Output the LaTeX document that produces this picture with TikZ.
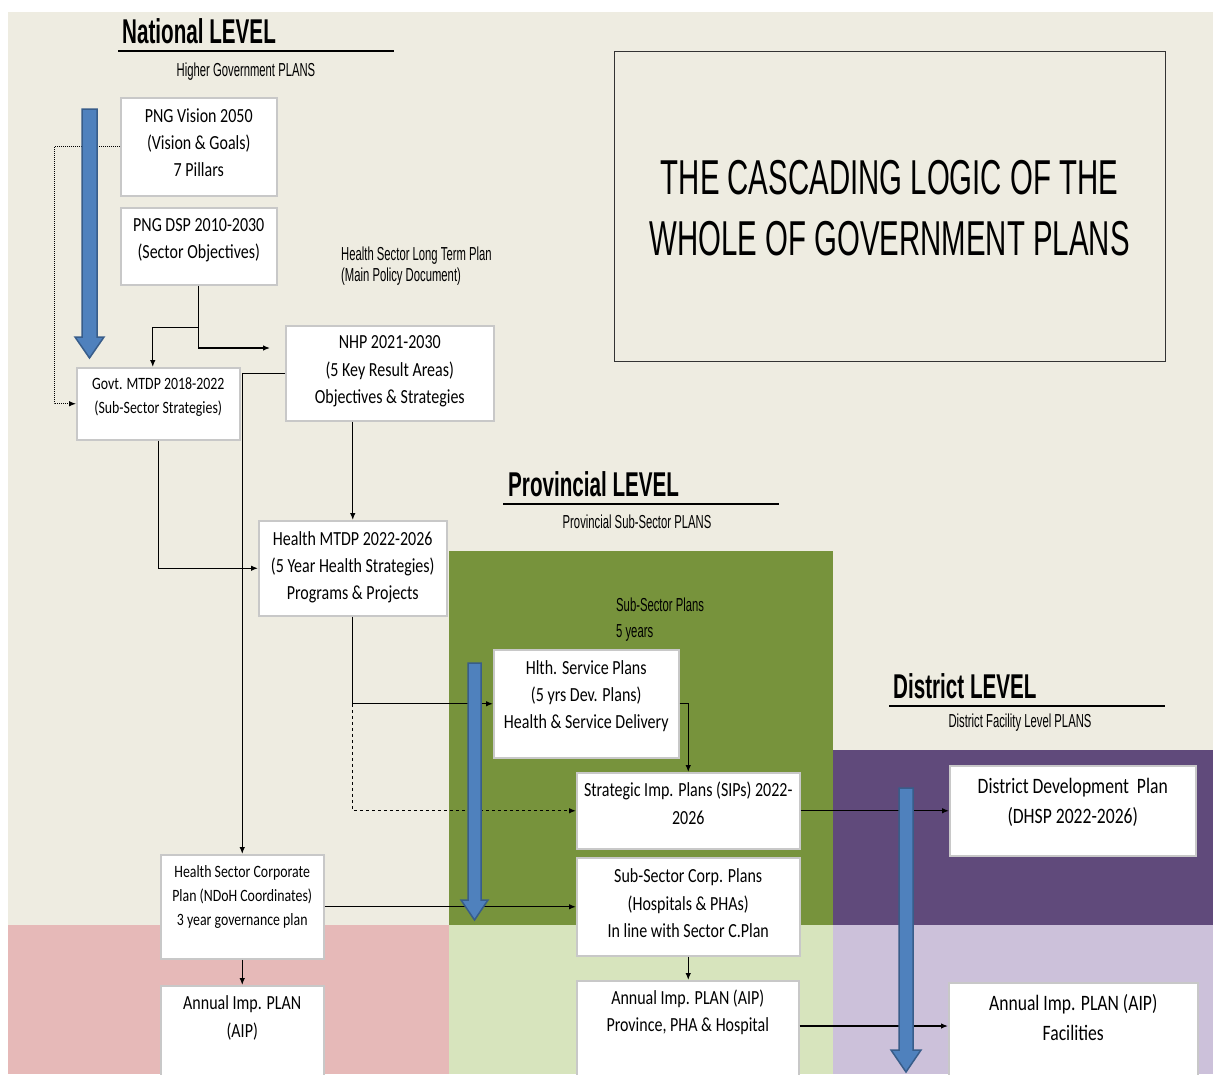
\documentclass[tikz,border=0pt]{standalone}
\usepackage{fontspec}
\setmainfont{Carlito}
\newfontfamily\boxfont[FakeStretch=0.8]{Carlito}
\newfontfamily\nfont[FakeStretch=0.6]{Liberation Sans}
\usetikzlibrary{arrows.meta,calc}
\definecolor{beige}{HTML}{EEECE1}
\definecolor{dgreen}{HTML}{77933C}
\definecolor{lgreen}{HTML}{D7E4BD}
\definecolor{pinkbg}{HTML}{E6B9B8}
\definecolor{dpurple}{HTML}{604A7B}
\definecolor{lpurple}{HTML}{CCC1DA}
\definecolor{bluefill}{HTML}{4F81BD}
\definecolor{blueline}{HTML}{385D8A}
\definecolor{boxgray}{HTML}{C8C8C8}
\tikzset{
  plan/.style={draw=boxgray, line width=1.5pt, fill=white, inner sep=0pt, anchor=north west},
  bt/.style={font=\boxfont\fontsize{20}{27}\selectfont, align=center, anchor=north, inner sep=0pt},
  bts/.style={font=\boxfont\fontsize{17.3}{24}\selectfont, align=center, anchor=north, inner sep=0pt},
  btl/.style={font=\boxfont\fontsize{22}{30}\selectfont, align=center, anchor=north, inner sep=0pt},
  conn/.style={line width=1.2pt, -{Latex[length=7pt,width=5.5pt]}},
  lvl/.style={font=\nfont\bfseries\fontsize{34.4}{40}\selectfont, anchor=base west, inner sep=0pt},
  subt/.style={font=\nfont\fontsize{18.8}{21}\selectfont, inner sep=0pt, anchor=base},
  subl/.style={font=\nfont\fontsize{18.8}{21}\selectfont, inner sep=0pt, anchor=base west},
  ttl/.style={font=\nfont\fontsize{49}{61}\selectfont, inner sep=0pt, anchor=base},
  uline/.style={line width=1.5pt},
  barrow/.style={fill=bluefill, draw=blueline, line width=1.5pt, line join=miter},
}
\newcommand\stA{\rule{0pt}{15pt}}
\newcommand\stS{\rule{0pt}{13pt}}
\newcommand\stL{\rule{0pt}{16.5pt}}
\newcommand\bluearrow[6]{%
  \filldraw[barrow] (#1,#3) -- (#2,#3) -- (#2,#4) -- (#2+#6,#4) -- ({(#1+#2)/2},#5) -- (#1-#6,#4) -- (#1,#4) -- cycle;}
\begin{document}
\begin{tikzpicture}[x=1pt,y=-1pt]
\clip (0,0) rectangle (1213,1074);
\useasboundingbox (0,0) rectangle (1213,1074);
% backgrounds
\fill[white] (0,0) rectangle (1213,1074);
\fill[beige] (8,12) rectangle (1213,1074);
\fill[pinkbg] (8,925) rectangle (449,1074);
\fill[dgreen] (449,551) rectangle (833,925);
\fill[lgreen] (449,925) rectangle (833,1074);
\fill[dpurple] (833,750) rectangle (1213,925);
\fill[lpurple] (833,925) rectangle (1213,1074);

% title box
\node[draw=black!80, line width=1.3pt, minimum width=551, minimum height=310, anchor=north west, inner sep=0pt] (title) at (614,51) {};
\node[ttl] (title1) at (889.5,194.5) {THE CASCADING LOGIC OF THE};
\node[ttl] (title2) at (889.5,255.5) {WHOLE OF GOVERNMENT PLANS};

% level headings
\node[lvl] (natl) at (122,43) {National LEVEL};
\draw[uline] (118,51) -- (394,51);
\node[subt] (natlsub) at (246,76) {Higher Government PLANS};
\node[lvl] (prov) at (508,496) {Provincial LEVEL};
\draw[uline] (503,504) -- (779,504);
\node[subt] (provsub) at (637,528) {Provincial Sub-Sector PLANS};
\node[lvl] (dist) at (893,698) {District LEVEL};
\draw[uline] (889,706) -- (1165,706);
\node[subt] (distsub) at (1020,727) {District Facility Level PLANS};

\node[subl] (lt1) at (341,260) {Health Sector Long Term Plan};
\node[subl] (lt2) at (341,281) {(Main Policy Document)};
\node[subl] (ss1) at (616,611) {Sub-Sector Plans};
\node[subl] (ss2) at (616,637) {5 years};

% boxes
\node[plan, minimum width=156, minimum height=98] (vision) at (120,97) {};
\node[plan, minimum width=156, minimum height=77] (dsp) at (120,207) {};
\node[plan, minimum width=208, minimum height=95] (nhp) at (285,325) {};
\node[plan, minimum width=163, minimum height=72] (govt) at (76,367) {};
\node[plan, minimum width=188, minimum height=95] (hmtdp) at (258,520) {};
\node[plan, minimum width=185, minimum height=108] (hsp) at (493,649) {};
\node[plan, minimum width=223, minimum height=76] (sips) at (576,772) {};
\node[plan, minimum width=223, minimum height=98] (ssc) at (576,857) {};
\node[plan, minimum width=163, minimum height=104] (hsc) at (160,854) {};
\node[plan, minimum width=163, minimum height=110] (aip1) at (160,985) {};
\node[plan, minimum width=222, minimum height=110] (aip2) at (576,980) {};
\node[plan, minimum width=246, minimum height=90] (ddp) at (949,765) {};
\node[plan, minimum width=249, minimum height=110] (aip3) at (948,982) {};

% box texts
\node[bt] (visiont) at ($(vision.north)+(0,10.5)$) {\stA PNG Vision 2050\\(Vision \& Goals)\\7 Pillars};
\node[bt] (dspt) at ($(dsp.north)+(0,9.5)$) {\stA PNG DSP 2010-2030\\(Sector Objectives)};
\node[bt, font=\boxfont\fontsize{20}{27.5}\selectfont] (nhpt) at ($(nhp.north)+(0,8.5)$) {\stA NHP 2021-2030\\(5 Key Result Areas)\\Objectives \& Strategies};
\node[bts] (govtt) at ($(govt.north)+(0,9.6)$) {\stS Govt. MTDP 2018-2022\\(Sub-Sector Strategies)};
\node[bt] (hmtdpt) at ($(hmtdp.north)+(0,10.5)$) {\stA Health MTDP 2022-2026\\(5 Year Health Strategies)\\Programs \& Projects};
\node[bt] (hspt) at ($(hsp.north)+(0,10.5)$) {\stA Hlth. Service Plans\\(5 yrs Dev. Plans)\\Health \& Service Delivery};
\node[bt, font=\boxfont\fontsize{20}{28}\selectfont] (sipst) at ($(sips.north)+(0,9.5)$) {\stA Strategic Imp. Plans (SIPs) 2022-\\2026};
\node[bt, font=\boxfont\fontsize{20}{27.5}\selectfont] (ssct) at ($(ssc.north)+(0,10.5)$) {\stA Sub-Sector Corp. Plans\\(Hospitals \& PHAs)\\In line with Sector C.Plan};
\node[bts] (hsct) at ($(hsc.north)+(0,10.6)$) {\stS Health Sector Corporate\\Plan (NDoH Coordinates)\\3 year governance plan};
\node[bt, font=\boxfont\fontsize{20}{28}\selectfont] (aip1t) at ($(aip1.north)+(0,9.5)$) {\stA Annual Imp. PLAN\\(AIP)};
\node[bt] (aip2t) at ($(aip2.north)+(0,9.5)$) {\stA Annual Imp. PLAN (AIP)\\Province, PHA \& Hospital};
\node[btl] (ddpt) at ($(ddp.north)+(0,11.5)$) {\stL District Development\ \ Plan\\(DHSP 2022-2026)};
\node[btl] (aip3t) at ($(aip3.north)+(0,11.5)$) {\stL Annual Imp. PLAN (AIP)\\Facilities};

% connectors
\draw[conn, line width=1pt, densely dotted] (vision.west) -- ++(-66,0) |- (govt.west);
\coordinate (nhpin) at ($(nhp.north west)+(-15,23)$);
\draw[conn] (dsp.south) |- (nhpin);
\draw[conn] ($(dsp.south)+(0,42)$) -| ($(govt.north)+(-5.5,0)$);
\draw[conn] (nhp.west) -| (hsc.north);
\draw[conn] (govt.south) |- (hmtdp.west);
\draw[conn] (nhp.south -| hmtdp.north) -- (hmtdp.north);
\draw[conn] (hmtdp.south) |- (hsp.west);
\draw[conn, dashed] (hmtdp.south |- hsp.west) |- (sips.west);
\draw[conn] (hsp.east) -| (sips.north);
\draw[conn] (sips.east) -- (sips.east -| ddp.west);
\draw[conn] (hsc.east) -- (hsc.east -| ssc.west);
\draw[conn] (hsc.south) -- (aip1.north);
\draw[conn] (ssc.south) -- (ssc.south |- aip2.north);
\coordinate (aipout) at ($(aip2.north east)+(0,46)$);
\draw[conn] (aipout) -- (aipout -| aip3.west);

% blue cascade arrows
\bluearrow{82}{97}{109}{337}{358}{7}
\bluearrow{468}{481}{663}{900}{920}{7}
\bluearrow{899}{913}{788}{1050}{1072}{8}
\end{tikzpicture}
\end{document}
